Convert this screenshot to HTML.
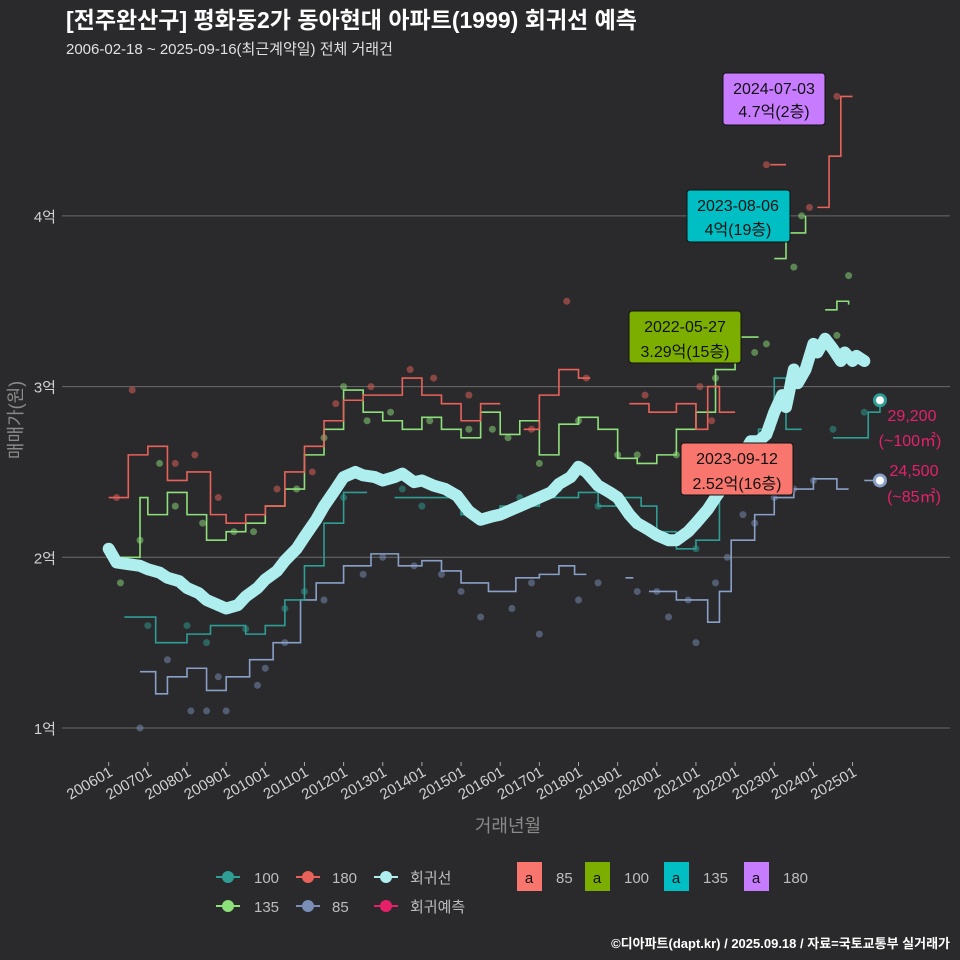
<!DOCTYPE html>
<html><head><meta charset="utf-8">
<style>
body{margin:0;background:#2a2a2c;}
svg{display:block;font-family:"Liberation Sans","Noto Sans CJK KR",sans-serif;}
</style></head>
<body>
<svg id="c" width="960" height="960" viewBox="0 0 960 960">
<rect width="960" height="960" fill="#2a2a2c"/>
<text x="66" y="28" font-size="23" font-weight="bold" fill="#ffffff">[전주완산구] 평화동2가 동아현대 아파트(1999) 회귀선 예측</text>
<text x="66" y="54" font-size="15" fill="#e0e0e0">2006-02-18 ~ 2025-09-16(최근계약일) 전체 거래건</text>
<g id="grid"></g>
<g id="series"></g>
<g id="ann"></g>
<text transform="translate(22,420) rotate(-90)" text-anchor="middle" font-size="18" fill="#8a8a8a">매매가(원)</text>
<text x="508" y="832" text-anchor="middle" font-size="18" fill="#8a8a8a">거래년월</text>
<g id="legend"></g>
<text x="950" y="948" text-anchor="end" font-size="13" font-weight="bold" fill="#ffffff">©디아파트(dapt.kr) / 2025.09.18 / 자료=국토교통부 실거래가</text>
</svg>
<script>
const yTicks=[1,2,3,4];
const yTickLabels=["1억","2억","3억","4억"];
const xTicks=[2006,2007,2008,2009,2010,2011,2012,2013,2014,2015,2016,2017,2018,2019,2020,2021,2022,2023,2024,2025];
const xTickLabels=["200601","200701","200801","200901","201001","201101","201201","201301","201401","201501","201601","201701","201801","201901","202001","202101","202201","202301","202401","202501"];
const s85=[[2006.8,1.33],[2007.2,1.2],[2007.5,1.3],[2008,1.35],[2008.5,1.22],[2009,1.3],[2009.6,1.4],[2010.2,1.5],[2010.9,1.75],[2011.3,1.85],[2012,1.95],[2012.7,2.02],[2013.4,1.95],[2014,1.98],[2014.5,1.92],[2015,1.85],[2015.7,1.8],[2016.4,1.88],[2017,1.9],[2017.5,1.95],[2017.9,1.9],[2018.2,1.9],null,[2019.2,1.88],[2019.4,1.88],null,[2019.8,1.8],[2020.5,1.75],[2021.3,1.62],[2021.6,1.8],[2021.9,2.1],[2022.5,2.25],[2023,2.35],[2023.5,2.4],[2024,2.46],[2024.6,2.4],[2024.9,2.4]];
const s100=[[2006.4,1.65],[2006.8,1.65],[2007.2,1.5],[2008,1.55],[2008.6,1.6],[2009.5,1.55],[2010,1.6],[2010.5,1.75],[2011,1.95],[2011.5,2.2],[2012,2.38],[2012.6,2.38],null,[2013.3,2.35],[2014,2.35],[2015,2.25],[2016,2.3],[2017,2.35],[2018,2.38],[2018.5,2.3],[2019,2.35],[2019.6,2.3],[2020,2.15],[2020.5,2.05],[2021,2.1],[2021.6,2.4],[2022,2.65],[2022.6,2.75],[2023,3.05],[2023.3,2.75],[2023.7,2.75],null,[2024.5,2.7],[2025,2.7],[2025.4,2.85],[2025.7,2.92]];
const s135=[[2006.1,2.0],[2006.7,2.0],[2006.8,2.35],[2007,2.25],[2007.5,2.38],[2008,2.25],[2008.5,2.1],[2009,2.15],[2009.5,2.2],[2010,2.3],[2010.5,2.4],[2011,2.6],[2011.5,2.75],[2012,2.98],[2012.5,2.85],[2013,2.8],[2013.5,2.75],[2014,2.82],[2014.5,2.75],[2015,2.7],[2015.5,2.85],[2016,2.72],[2016.5,2.8],[2017,2.6],[2017.5,2.78],[2018,2.82],[2018.5,2.75],[2019,2.58],[2019.5,2.55],[2020,2.6],[2020.5,2.75],[2021,2.85],[2021.5,3.1],[2022,3.29],[2022.6,3.29],null,[2023,3.75],[2023.3,3.9],[2023.8,4.0],null,[2024.3,3.45],[2024.6,3.5],[2024.9,3.48]];
const s180=[[2006,2.35],[2006.5,2.6],[2007,2.65],[2007.5,2.45],[2008,2.5],[2008.6,2.25],[2009,2.2],[2009.5,2.25],[2010,2.3],[2010.5,2.5],[2011,2.65],[2011.5,2.8],[2012,2.92],[2012.5,2.95],[2013,2.95],[2013.5,3.05],[2014,2.95],[2014.5,2.9],[2015,2.8],[2015.5,2.9],[2016,2.9],null,[2016.6,2.75],[2017,2.95],[2017.5,3.1],[2018,3.05],[2018.3,3.05],null,[2019.3,2.9],[2019.8,2.85],[2020.5,2.9],[2021,2.75],[2021.3,3.0],[2021.6,2.85],[2022,2.85],null,[2022.9,4.3],[2023.3,4.3],null,[2024.1,4.05],[2024.4,4.35],[2024.7,4.7],[2025.0,4.7]];
const reg=[[2006,2.05],[2006.2,1.97],[2006.5,1.96],[2006.8,1.95],[2007,1.93],[2007.3,1.91],[2007.5,1.88],[2007.8,1.86],[2008,1.82],[2008.3,1.79],[2008.5,1.75],[2008.8,1.72],[2009,1.7],[2009.3,1.72],[2009.5,1.77],[2009.8,1.82],[2010,1.87],[2010.3,1.92],[2010.5,1.98],[2010.8,2.05],[2011,2.12],[2011.3,2.22],[2011.5,2.3],[2011.8,2.4],[2012,2.47],[2012.3,2.5],[2012.5,2.48],[2012.8,2.47],[2013,2.45],[2013.3,2.47],[2013.5,2.49],[2013.8,2.44],[2014,2.45],[2014.3,2.42],[2014.6,2.4],[2014.9,2.36],[2015.2,2.27],[2015.5,2.22],[2015.8,2.24],[2016,2.25],[2016.3,2.28],[2016.5,2.3],[2016.8,2.33],[2017,2.35],[2017.3,2.38],[2017.5,2.43],[2017.8,2.47],[2018,2.53],[2018.2,2.5],[2018.5,2.42],[2018.8,2.38],[2019,2.35],[2019.3,2.25],[2019.5,2.2],[2019.8,2.16],[2020,2.13],[2020.3,2.1],[2020.5,2.1],[2020.8,2.15],[2021,2.2],[2021.3,2.28],[2021.5,2.35],[2021.8,2.45],[2022,2.55],[2022.2,2.6],[2022.4,2.68],[2022.6,2.68],[2022.8,2.72],[2023,2.85],[2023.2,2.95],[2023.3,2.88],[2023.5,3.1],[2023.6,3.02],[2023.8,3.1],[2024,3.25],[2024.1,3.2],[2024.3,3.28],[2024.5,3.22],[2024.7,3.15],[2024.8,3.2],[2025,3.15],[2025.1,3.18],[2025.3,3.15]];
const dots85=[[2006.8,1.0],[2008.1,1.1],[2008.5,1.1],[2009,1.1],[2009.8,1.25],[2010.5,1.5],[2011.5,1.75],[2013,2.0],[2014.5,1.9],[2015.5,1.65],[2016.3,1.7],[2017,1.55],[2018,1.75],[2019.5,1.8],[2020.3,1.65],[2021,1.5],[2021.5,1.85],[2022.5,2.2],[2023.5,2.4],[2024,2.45],[2007.5,1.4],[2008.8,1.3],[2010,1.35],[2012.5,1.9],[2013.8,1.95],[2015,1.8],[2016.8,1.85],[2018.5,1.85],[2020,1.8],[2020.8,1.75],[2021.8,2.0],[2022.2,2.25],[2023,2.35]];
const dots100=[[2007,1.6],[2008,1.6],[2009.5,1.58],[2011,1.8],[2012,2.35],[2013.5,2.4],[2015,2.3],[2016.5,2.35],[2017.5,2.4],[2019,2.35],[2020.5,2.1],[2022,2.5],[2023,2.8],[2024.5,2.75],[2025.3,2.85],[2008.5,1.5],[2010.5,1.7],[2014,2.3],[2018.5,2.3],[2021,2.05],[2021.7,2.4]];
const dots135=[[2006.3,1.85],[2007.3,2.55],[2008.4,2.2],[2009.7,2.15],[2010.8,2.4],[2012,3.0],[2013.2,2.85],[2014.2,2.8],[2015.8,2.75],[2017,2.55],[2018,2.8],[2019.5,2.6],[2020.5,2.6],[2021.5,3.05],[2022.5,3.2],[2023.7,4.0],[2023.5,3.7],[2024.9,3.65],[2024.6,3.3],[2006.8,2.1],[2007.7,2.3],[2009.2,2.15],[2011.5,2.7],[2012.6,2.8],[2015.2,2.75],[2016.2,2.7],[2019,2.6],[2022.8,3.25]];
const dots180=[[2006.6,2.98],[2007.7,2.55],[2008.8,2.35],[2010.3,2.4],[2011.8,2.9],[2013.7,3.1],[2015.2,2.95],[2016.8,2.75],[2017.7,3.5],[2019.7,2.95],[2021.1,3.0],[2022.8,4.3],[2023.9,4.05],[2024.6,4.7],[2006.2,2.35],[2008.2,2.6],[2011.2,2.5],[2012.7,3.0],[2014.3,3.05],[2018.2,3.05],[2021.4,2.8]];

const X=t=>108.7+(t-2006)*39.15;
const Y=v=>728-(v-1)*170.7;
const NS="http://www.w3.org/2000/svg";
function mk(tag,attrs,parent){const e=document.createElementNS(NS,tag);for(const k in attrs)e.setAttribute(k,attrs[k]);parent.appendChild(e);return e;}
const grid=document.getElementById('grid');
yTicks.forEach((v,i)=>{
  const l=mk('line',{x1:62,x2:950,y1:Y(v),y2:Y(v),stroke:'#6a6a6a','stroke-width':1},grid);
  
  
  const t=mk('text',{x:56,y:Y(v)+6,'text-anchor':'end','font-size':15,fill:'#d0d0d0'},grid);
  t.textContent=yTickLabels[i];
  
  
});
xTicks.forEach((v,i)=>{
  const x=X(v);
  mk('line',{x1:x,x2:x,y1:762,y2:766,stroke:'#aaa'},grid);
  const t=mk('text',{x:x+5,y:775,'text-anchor':'end','font-size':15,fill:'#d0d0d0',transform:`rotate(-30 ${x+5} 775)`},grid);
  t.textContent=xTickLabels[i];
  
  
});
const G=document.getElementById('series');
function stepPath(arr){let d='',prev=null;arr.forEach(p=>{if(!p){prev=null;return;}if(!prev)d+=`M${X(p[0])},${Y(p[1])}`;else d+=`H${X(p[0])}V${Y(p[1])}`;prev=p;});return d;}
function smoothPath(arr){return arr.map((p,i)=>(i?'L':'M')+X(p[0])+','+Y(p[1])).join('');}
function dots(arr,col,name){arr.forEach(p=>{const c=mk('circle',{cx:X(p[0]),cy:Y(p[1]),r:3.5,fill:col,opacity:0.5},G);});}
dots(dots85,'#7a8fb8','dot-85');dots(dots100,'#2e9d94','dot-100');dots(dots135,'#8ee07a','dot-135');dots(dots180,'#e8625a','dot-180');
const lines=[[s85,'#8aa0c8','line-85'],[s100,'#2e9d94','line-100'],[s135,'#8ee07a','line-135'],[s180,'#e8625a','line-180']];
lines.forEach(([a,c,n])=>{const p=mk('path',{d:stepPath(a),fill:'none',stroke:c,'stroke-width':1.6},G);});
const rp=mk('path',{d:smoothPath(reg),fill:'none',stroke:'#aeeeee','stroke-width':12,'stroke-linejoin':'round','stroke-linecap':'round'},G);


const pr1=mk('circle',{cx:X(2025.7),cy:Y(2.92),r:5.5,fill:'#fff',stroke:'#2e9d94','stroke-width':3},G);


mk('line',{x1:X(2025.3),x2:X(2025.7),y1:Y(2.45),y2:Y(2.45),stroke:'#8aa0c8','stroke-width':1.6},G);
const pr2=mk('circle',{cx:X(2025.7),cy:Y(2.45),r:5.5,fill:'#fff',stroke:'#8aa0c8','stroke-width':3},G);


</script>
<svg style="position:absolute;left:0;top:0" width="960" height="960" font-family="'Liberation Sans','Noto Sans CJK KR',sans-serif">
<g font-size="16" fill="#e6206a" text-anchor="middle">
<text x="912" y="421">29,200</text>
<text x="910" y="446">(~100㎡)</text>
<text x="914" y="476">24,500</text>
<text x="914" y="502">(~85㎡)</text>
</g>
<g font-size="16" fill="#111" text-anchor="middle">
<g><rect x="723" y="73" width="102" height="52" rx="3" fill="#c77cff" stroke="#111"/><text x="774" y="94">2024-07-03</text><text x="774" y="117">4.7억(2층)</text></g>
<g><rect x="687" y="190" width="103" height="52" rx="3" fill="#00bfc4" stroke="#111"/><text x="738" y="211">2023-08-06</text><text x="738" y="235">4억(19층)</text></g>
<g><rect x="629" y="311" width="112" height="52" rx="3" fill="#7cae00" stroke="#111"/><text x="685" y="332">2022-05-27</text><text x="685" y="357">3.29억(15층)</text></g>
<g><rect x="681" y="443" width="112" height="52" rx="3" fill="#f8766d" stroke="#111"/><text x="737" y="464">2023-09-12</text><text x="737" y="489">2.52억(16층)</text></g>
</g>
<g font-size="15" fill="#bdbdbd">
<g><line x1="216" x2="240" y1="877" y2="877" stroke="#2e9d94" stroke-width="2"/><circle cx="228" cy="877" r="6" fill="#2e9d94"/><text x="254" y="883">100</text></g>
<g><line x1="296" x2="320" y1="877" y2="877" stroke="#e8625a" stroke-width="2"/><circle cx="308" cy="877" r="6" fill="#e8625a"/><text x="332" y="883">180</text></g>
<g><line x1="374" x2="398" y1="877" y2="877" stroke="#aeeeee" stroke-width="2"/><circle cx="386" cy="877" r="6" fill="#aeeeee"/><text x="410" y="883">회귀선</text></g>
<g><line x1="216" x2="240" y1="906" y2="906" stroke="#8ee07a" stroke-width="2"/><circle cx="228" cy="906" r="6" fill="#8ee07a"/><text x="254" y="912">135</text></g>
<g><line x1="296" x2="320" y1="906" y2="906" stroke="#7a8fb8" stroke-width="2"/><circle cx="308" cy="906" r="6" fill="#7a8fb8"/><text x="332" y="912">85</text></g>
<g><line x1="374" x2="398" y1="906" y2="906" stroke="#e6206a" stroke-width="2"/><circle cx="386" cy="906" r="6" fill="#e6206a"/><text x="410" y="912">회귀예측</text></g>
<g><rect x="517" y="862" width="25" height="29" fill="#f8766d"/><text x="529" y="883" fill="#111" text-anchor="middle">a</text><text x="556" y="883">85</text></g>
<g><rect x="585" y="862" width="25" height="29" fill="#7cae00"/><text x="597" y="883" fill="#111" text-anchor="middle">a</text><text x="624" y="883">100</text></g>
<g><rect x="664" y="862" width="25" height="29" fill="#00bfc4"/><text x="676" y="883" fill="#111" text-anchor="middle">a</text><text x="703" y="883">135</text></g>
<g><rect x="744" y="862" width="25" height="29" fill="#c77cff"/><text x="756" y="883" fill="#111" text-anchor="middle">a</text><text x="783" y="883">180</text></g>
</g>
</svg>
</body></html>
